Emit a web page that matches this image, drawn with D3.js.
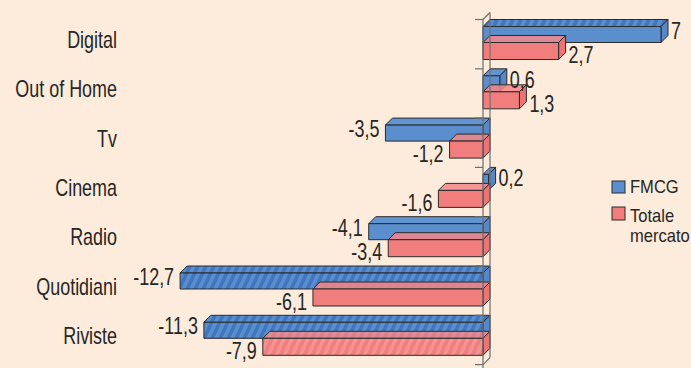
<!DOCTYPE html>
<html>
<head>
<meta charset="utf-8">
<script src="https://cdn.jsdelivr.net/npm/d3@7"></script>
<style>
  html, body { margin: 0; padding: 0; background: #fdebdb; }
  svg { display: block; }
  text { font-family: 'Liberation Sans', Arial, sans-serif; fill: #262626; }
</style>
</head>
<body>
<svg id="chart" width="691" height="368"></svg>
<script>
// data
const categories = ['Digital', 'Out of Home', 'Tv', 'Cinema', 'Radio', 'Quotidiani', 'Riviste'];
const fmcg = [7, 0.6, -3.5, 0.2, -4.1, -12.7, -11.3];
const totale = [2.7, 1.3, -1.2, -1.6, -3.4, -6.1, -7.9];
const seriesNames = ['FMCG', 'Totale mercato'];

const W = 691, H = 368;
const depth = 7;

const svg = d3.select('#chart');

// long bars are drawn shortened (hatched), so the scale is broken past +-7
const x = d3.scaleLinear()
    .domain([-13, -8, 0, 3, 7])
    .range([175, 260, 483, 567, 661]);

const y = d3.scaleBand()
    .domain(categories)
    .range([19.5, 364.6]);

const fmt = v => String(v).replace('.', ',');

let colors = {
    blue: { fill: '#5b8ecd', top: '#6394d2', side: '#5488c8', stripe: '#3f76bf' },
    red: { fill: '#f27d7d', top: '#f48787', side: '#ee7474', stripe: '#f49393' }
};

// condensed text: scale horizontally around the anchor point
function narrowText(sel, tx, ty, size, anchor, str, squeeze) {
    return sel.append('text')
        .attr('transform', 'translate(' + tx + ',' + ty + ') scale(' + (squeeze || 0.78) + ',1)')
        .attr('font-size', size)
        .attr('text-anchor', anchor)
        .text(str);
}

// hatch patterns for the shortened bars
let defs = svg.append('defs');
Object.keys(colors).forEach(function(k) {
    let c = colors[k];
    let p = defs.append('pattern')
        .attr('id', 'hatch-' + k)
        .attr('patternUnits', 'userSpaceOnUse')
        .attr('width', 8).attr('height', 8)
        .attr('patternTransform', 'skewX(-25)');
    p.append('rect').attr('width', 8).attr('height', 8).attr('fill', c.fill);
    p.append('rect').attr('width', 4).attr('height', 8).attr('fill', c.stripe);
});

let bars = svg.append('g').attr('class', 'bars');

function drawBar(v, yt, h, key) {
    let c = colors[key];
    let x0 = x(0), xv = x(v);
    let xa = Math.min(x0, xv), xb = Math.max(x0, xv);
    let hatched = Math.abs(v) >= 7;
    let g = bars.append('g')
        .attr('stroke', '#2b2b2b')
        .attr('stroke-width', 1)
        .attr('stroke-linejoin', 'round');
    g.append('polygon')
        .attr('points', [[xa, yt], [xa + depth, yt - depth], [xb + depth, yt - depth], [xb, yt]].join(' '))
        .attr('fill', hatched ? 'url(#hatch-' + key + ')' : c.top)
        .attr('fill-opacity', key === 'red' ? 0.85 : 1);
    g.append('polygon')
        .attr('points', [[xb, yt], [xb + depth, yt - depth], [xb + depth, yt + h - depth], [xb, yt + h]].join(' '))
        .attr('fill', c.side);
    g.append('rect')
        .attr('x', xa).attr('y', yt)
        .attr('width', xb - xa).attr('height', h)
        .attr('fill', hatched && v < 0 ? 'url(#hatch-' + key + ')' : c.fill);
}

categories.forEach(function(cat, i) {
    let b = y(cat);
    drawBar(fmcg[i], b + 7, 16, 'blue');
    drawBar(totale[i], b + 23, 17, 'red');
});

// value labels
let labels = svg.append('g');
function addLabel(v, ty) {
    let pos = v >= 0;
    narrowText(labels, pos ? x(v) + 10 : x(v) - 6, ty, 23, pos ? 'start' : 'end', fmt(v));
}
categories.forEach(function(cat, i) {
    let b = y(cat);
    addLabel(fmcg[i], b + 19);
    addLabel(totale[i], b + 43.5);
});

// category labels
let cats = svg.append('g');
categories.forEach(function(cat) {
    narrowText(cats, 117, y(cat) + 28.5, 23, 'end', cat);
});

// axis wall
let ax = svg.append('g').attr('stroke', '#6e6e6e').attr('stroke-width', 1.2).attr('fill', 'none');
let y0 = y.range()[0], y1 = y.range()[1];
ax.append('line').attr('x1', x(0)).attr('x2', x(0)).attr('y1', y0).attr('y2', H);
ax.append('line').attr('x1', x(0) + depth).attr('x2', x(0) + depth).attr('y1', y0 - depth).attr('y2', y1 - depth);
ax.append('line').attr('x1', x(0)).attr('x2', x(0) + depth).attr('y1', y0).attr('y2', y0 - depth);
ax.append('line').attr('x1', x(0)).attr('x2', x(0) + depth).attr('y1', y1).attr('y2', y1 - depth);
ax.selectAll('.tick')
    .data(categories.map(c => y(c)).concat([y1]))
    .join('line')
    .attr('class', 'tick')
    .attr('x1', x(0) - 8).attr('x2', x(0))
    .attr('y1', d => d).attr('y2', d => d);

// legend
let legend = svg.append('g').attr('transform', 'translate(612,181)');
legend.append('rect').attr('width', 13).attr('height', 12)
    .attr('fill', colors.blue.fill).attr('stroke', '#2b2b2b');
narrowText(legend, 18, 12, 18, 'start', seriesNames[0], 0.92);
legend.append('rect').attr('y', 26).attr('width', 13).attr('height', 13)
    .attr('fill', colors.red.fill).attr('stroke', '#2b2b2b');
narrowText(legend, 18, 41, 18, 'start', seriesNames[1].split(' ')[0], 0.92);
narrowText(legend, 18, 61, 18, 'start', seriesNames[1].split(' ')[1], 0.92);
</script>
</body>
</html>
